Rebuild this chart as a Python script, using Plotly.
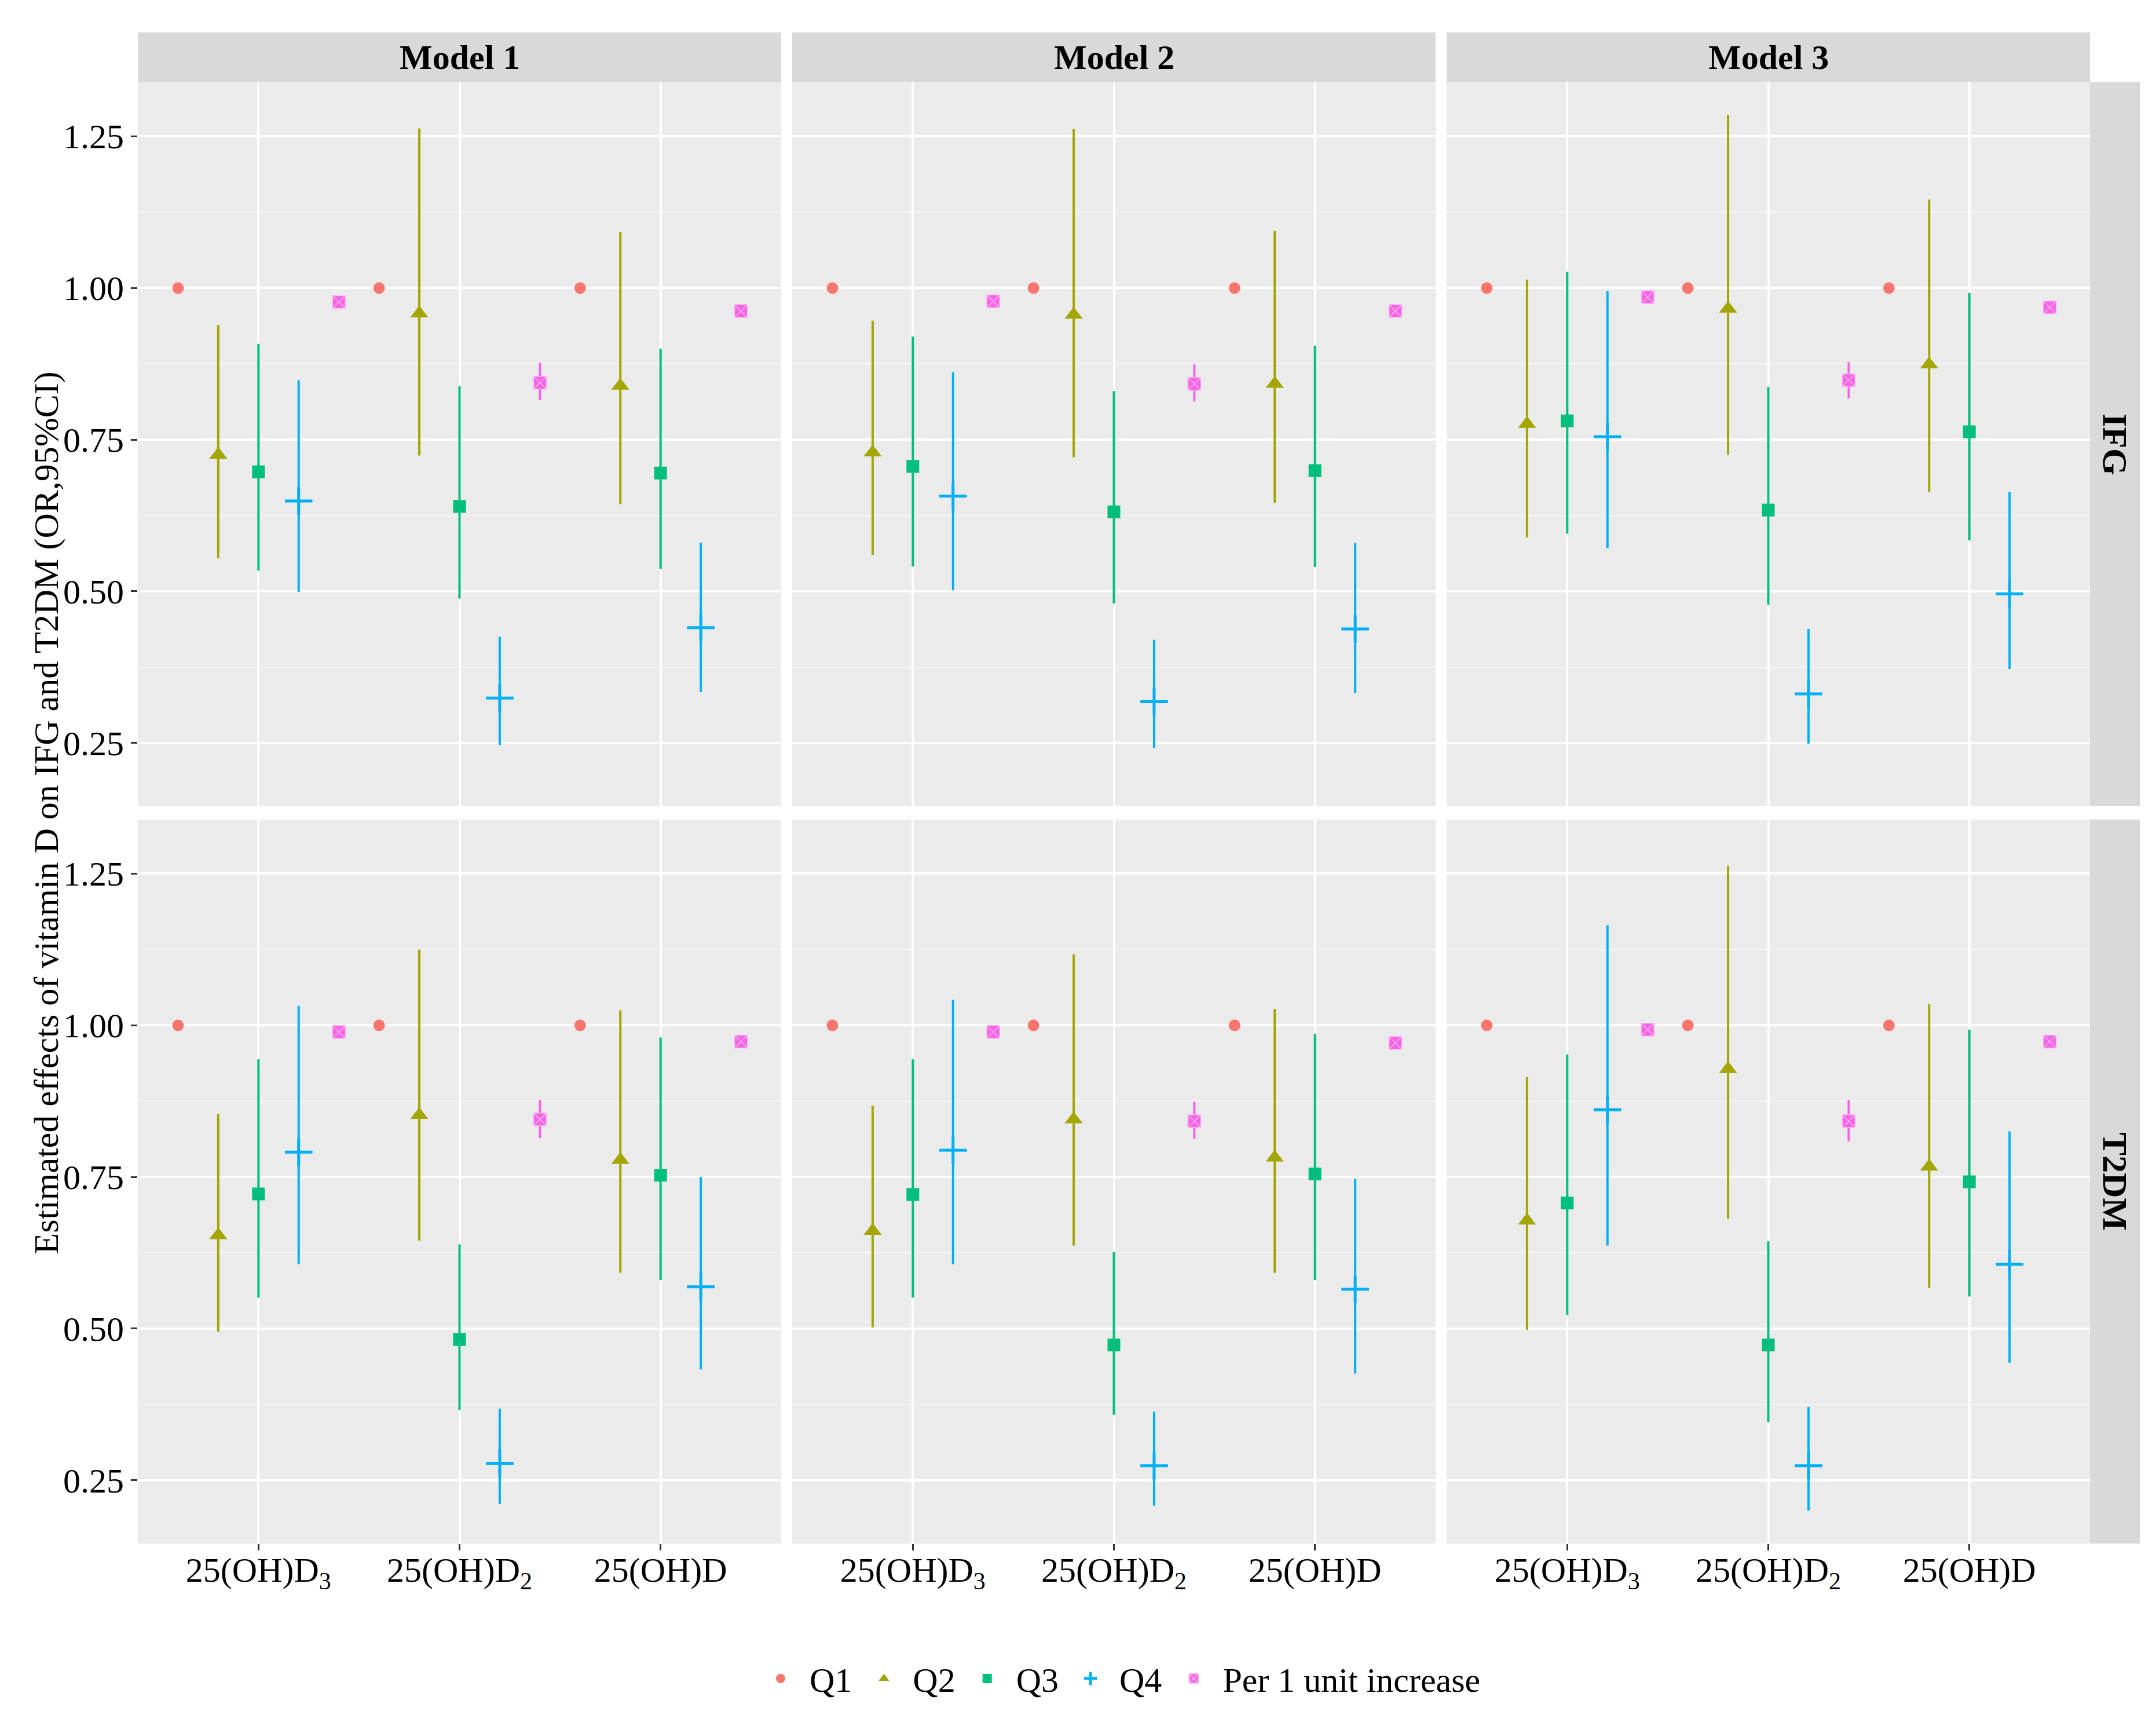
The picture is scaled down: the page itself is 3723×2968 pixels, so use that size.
import plotly.graph_objects as go
from plotly.subplots import make_subplots

# ---------------- data ----------------
models = ["Model 1", "Model 2", "Model 3"]
outcomes = ["IFG", "T2DM"]
exposure_labels = ["25(OH)D<sub>3</sub>", "25(OH)D<sub>2</sub>", "25(OH)D"]
groups = ["Q1", "Q2", "Q3", "Q4", "Per 1 unit increase"]
ref_value = 1.0

# each list: panels in order IFG-M1, IFG-M2, IFG-M3, T2DM-M1, T2DM-M2, T2DM-M3;
# within each panel: 25(OH)D3, 25(OH)D2, 25(OH)D
q1_or = [1.0] * 18
q1_lo = [1.0] * 18
q1_hi = [1.0] * 18

q2_or = [0.725, 0.958, 0.839, 0.729, 0.956, 0.842, 0.776, 0.966, 0.874,
         0.654, 0.852, 0.778, 0.661, 0.845, 0.782, 0.678, 0.928, 0.767]
q2_lo = [0.555, 0.724, 0.644, 0.560, 0.721, 0.646, 0.589, 0.725, 0.664,
         0.495, 0.645, 0.592, 0.502, 0.637, 0.592, 0.498, 0.681, 0.567]
q2_hi = [0.939, 1.263, 1.092, 0.946, 1.262, 1.094, 1.014, 1.285, 1.146,
         0.854, 1.125, 1.025, 0.867, 1.117, 1.027, 0.915, 1.263, 1.035]

q3_or = [0.697, 0.640, 0.695, 0.706, 0.631, 0.699, 0.781, 0.634, 0.763,
         0.722, 0.482, 0.753, 0.721, 0.473, 0.755, 0.707, 0.473, 0.742]
q3_lo = [0.534, 0.488, 0.537, 0.541, 0.480, 0.540, 0.595, 0.478, 0.584,
         0.551, 0.366, 0.580, 0.551, 0.358, 0.580, 0.522, 0.346, 0.553]
q3_hi = [0.908, 0.838, 0.900, 0.920, 0.830, 0.905, 1.027, 0.837, 0.992,
         0.944, 0.639, 0.980, 0.944, 0.626, 0.986, 0.952, 0.644, 0.993]

q4_or = [0.649, 0.324, 0.440, 0.657, 0.318, 0.438, 0.755, 0.331, 0.496,
         0.791, 0.278, 0.569, 0.794, 0.274, 0.565, 0.861, 0.274, 0.606]
q4_lo = [0.499, 0.247, 0.334, 0.502, 0.242, 0.332, 0.571, 0.249, 0.372,
         0.606, 0.211, 0.433, 0.606, 0.208, 0.426, 0.637, 0.200, 0.444]
q4_hi = [0.848, 0.425, 0.580, 0.861, 0.420, 0.580, 0.995, 0.438, 0.664,
         1.032, 0.368, 0.750, 1.042, 0.363, 0.747, 1.165, 0.371, 0.825]

per_or = [0.977, 0.844, 0.962, 0.978, 0.842, 0.962, 0.985, 0.848, 0.968,
          0.989, 0.845, 0.973, 0.989, 0.842, 0.971, 0.993, 0.842, 0.973]
per_lo = [0.970, 0.815, 0.955, 0.971, 0.813, 0.955, 0.978, 0.818, 0.961,
          0.983, 0.814, 0.966, 0.983, 0.813, 0.964, 0.987, 0.809, 0.966]
per_hi = [0.984, 0.877, 0.969, 0.985, 0.874, 0.969, 0.992, 0.878, 0.975,
          0.995, 0.877, 0.980, 0.995, 0.874, 0.978, 0.999, 0.877, 0.980]

y_ticks = [0.25, 0.50, 0.75, 1.00, 1.25]

# ---------------- styling ----------------
FONT = "Liberation Serif"
W, H = 3723, 2968
L, R, T, B = 230, 122, 134, 311
plot_w = W - L - R
plot_h = H - T - B
hgap, vgap = 19, 23
strip = 86
NB = "\u00a0"

colors = ["#F8766D", "#A3A500", "#00BF7D", "#00B0F6", "#F564E3"]
symbols = ["circle", "triangle-up", "square", "cross-thin", "square-x"]
sizes = [20, 27, 22, 34, 22]

series = [(q1_or, q1_lo, q1_hi), (q2_or, q2_lo, q2_hi), (q3_or, q3_lo, q3_hi),
          (q4_or, q4_lo, q4_hi), (per_or, per_lo, per_hi)]

fig = make_subplots(rows=2, cols=3,
                    horizontal_spacing=hgap / plot_w,
                    vertical_spacing=vgap / plot_h)

n_exp = len(exposure_labels)
dodge_step = 0.2
for gi, (g, (o, lo, hi)) in enumerate(zip(groups, series)):
    offset = (gi - (len(groups) - 1) / 2) * dodge_step
    legend_name = NB * 2 + g + (NB * 2 if gi < len(groups) - 1 else "")
    for ri, outc in enumerate(outcomes):
        for ci, mod in enumerate(models):
            p = ri * len(models) + ci
            sl = slice(p * n_exp, (p + 1) * n_exp)
            ov, lv, hv = o[sl], lo[sl], hi[sl]
            xs = [k + 1 + offset for k in range(n_exp)]
            mk = dict(symbol=symbols[gi], size=sizes[gi], color=colors[gi])
            if symbols[gi] == "cross-thin":
                mk["line"] = dict(color=colors[gi], width=5)
            elif symbols[gi] == "square-x":
                mk["line"] = dict(color="#FBB4F3", width=1.5)
            else:
                mk["line"] = dict(width=0)
            fig.add_trace(go.Scatter(
                x=xs, y=ov, mode="markers", name=legend_name,
                legendgroup=g, showlegend=(p == 0),
                marker=mk,
                error_y=dict(type="data", symmetric=False,
                             array=[h - v for h, v in zip(hv, ov)],
                             arrayminus=[v - l for v, l in zip(ov, lv)],
                             color=colors[gi], thickness=4, width=0),
            ), row=ri + 1, col=ci + 1)

# y range with 5% expansion like ggplot
all_lo = q1_lo + q2_lo + q3_lo + q4_lo + per_lo
all_hi = q1_hi + q2_hi + q3_hi + q4_hi + per_hi
ymin, ymax = min(all_lo), max(all_hi)
pad = 0.05 * (ymax - ymin)
yrange = [ymin - pad, ymax + pad]
minor_vals = [(a + b) / 2 for a, b in zip(y_ticks[:-1], y_ticks[1:])]

fig.add_hline(y=ref_value, line=dict(color="#E3262B", width=3, dash="27px,17px"),
              row="all", col="all")

for ri in range(2):
    for ci in range(3):
        fig.update_yaxes(
            range=yrange, tickvals=y_ticks, ticktext=[f"{v:.2f}" for v in y_ticks],
            showgrid=True, gridcolor="white", gridwidth=4, zeroline=False,
            showline=False,
            minor=dict(tickvals=minor_vals, showgrid=True, gridcolor="#F6F6F6",
                       gridwidth=2, ticks=""),
            ticks="outside" if ci == 0 else "", ticklen=11, tickwidth=2.5,
            tickcolor="#333333", showticklabels=(ci == 0),
            tickfont=dict(family=FONT, size=60, color="black"),
            row=ri + 1, col=ci + 1)
        fig.update_xaxes(
            range=[0.4, n_exp + 0.6], tickvals=list(range(1, n_exp + 1)),
            ticktext=exposure_labels,
            showgrid=True, gridcolor="white", gridwidth=3.5, zeroline=False,
            showline=False,
            ticks="outside" if ri == 1 else "", ticklen=11, tickwidth=2.5,
            tickcolor="#333333", showticklabels=(ri == 1),
            ticklabelstandoff=-18,
            tickfont=dict(family=FONT, size=60, color="black"),
            row=ri + 1, col=ci + 1)

shapes = []
annotations = []
# top strips
for ci, mod in enumerate(models):
    xr = "x domain" if ci == 0 else f"x{ci + 1} domain"
    shapes.append(dict(type="rect", xref=xr, yref="paper", x0=0, x1=1,
                       y0=1, y1=1 + strip / plot_h, fillcolor="#D9D9D9",
                       line=dict(width=0), layer="below"))
    annotations.append(dict(xref=xr, yref="paper", x=0.5, y=1 + strip / plot_h / 2,
                            text=f"<b>{mod}</b>", showarrow=False,
                            font=dict(family=FONT, size=60, color="black"),
                            xanchor="center", yanchor="middle"))
# right strips
for ri, outc in enumerate(outcomes):
    yr = f"y{ri * 3 + 3} domain"
    shapes.append(dict(type="rect", xref="paper", yref=yr, x0=1,
                       x1=1 + strip / plot_w, y0=0, y1=1, fillcolor="#D9D9D9",
                       line=dict(width=0), layer="below"))
    annotations.append(dict(xref="paper", yref=yr, x=1 + strip / plot_w / 2, y=0.5,
                            text=f"<b>{outc}</b>", showarrow=False, textangle=90,
                            font=dict(family=FONT, size=60, color="black"),
                            xanchor="center", yanchor="middle"))
# y title
annotations.append(dict(xref="paper", yref="paper", x=(71 - L) / plot_w, y=0.5,
                        text="Estimated effects of vitamin D on IFG and T2DM (OR,95%CI)",
                        showarrow=False, textangle=-90,
                        font=dict(family=FONT, size=60, color="black"),
                        xanchor="center", yanchor="middle"))

fig.update_layout(
    width=W, height=H,
    margin=dict(l=L, r=R, t=T, b=B),
    paper_bgcolor="white", plot_bgcolor="#EBEBEB",
    font=dict(family=FONT, size=60, color="black"),
    shapes=shapes, annotations=annotations,
    legend=dict(orientation="h", x=(1937 - L) / plot_w, xanchor="center",
                y=-(2890 - (H - B)) / plot_h, yanchor="middle",
                font=dict(family=FONT, size=60, color="black"),
                bgcolor="rgba(0,0,0,0)", itemsizing="trace"),
    showlegend=True,
)

fig.write_html("out.html")
